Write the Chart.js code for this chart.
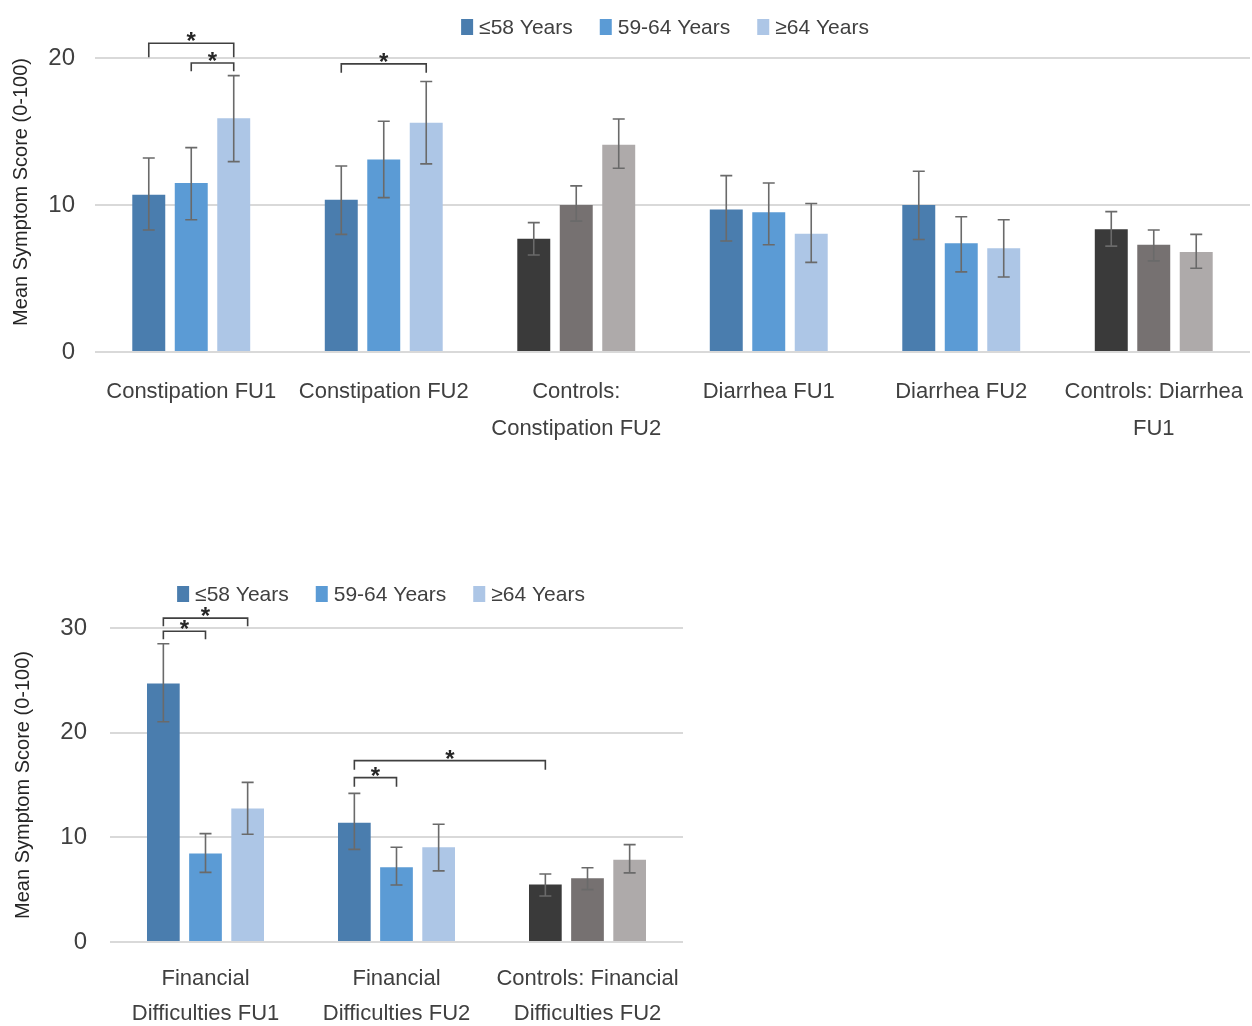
<!DOCTYPE html>
<html>
<head>
<meta charset="utf-8">
<title>Mean Symptom Score by age group</title>
<script src="https://cdn.jsdelivr.net/npm/chart.js@4.4.1/dist/chart.umd.min.js"></script>
<style>
  html, body { margin: 0; padding: 0; background: #fff; }
  body { width: 1252px; height: 1026px; position: relative; overflow: hidden; }
  .box { position: absolute; left: 0; }
</style>
</head>
<body>
<div class="box" style="top:0;width:1252px;height:450px"><canvas id="topChart"></canvas></div>
<div class="box" style="top:560px;width:700px;height:466px"><canvas id="botChart"></canvas></div>

<script>
// ---------- data ----------
const ageGroups = ['≤58 Years', '59-64 Years', '≥64 Years'];

const topCategories = [
  'Constipation FU1', 'Constipation FU2', ['Controls:', 'Constipation FU2'],
  'Diarrhea FU1', 'Diarrhea FU2', ['Controls: Diarrhea', 'FU1']
];
const topYoung     = [10.7, 10.35, 7.7, 9.7, 10.0, 8.35];
const topYoungLow  = [8.3, 8.0, 6.6, 7.55, 7.65, 7.2];
const topYoungHigh = [13.2, 12.65, 8.8, 12.0, 12.3, 9.55];
const topMid       = [11.5, 13.1, 10.0, 9.5, 7.4, 7.3];
const topMidLow    = [9.0, 10.5, 8.9, 7.3, 5.45, 6.2];
const topMidHigh   = [13.9, 15.7, 11.3, 11.5, 9.2, 8.3];
const topOld       = [15.9, 15.6, 14.1, 8.05, 7.05, 6.8];
const topOldLow    = [12.95, 12.8, 12.5, 6.1, 5.1, 5.7];
const topOldHigh   = [18.8, 18.4, 15.85, 10.1, 9.0, 8.0];
const topControls  = [false, false, true, false, false, true];
const topTicks     = [0, 10, 20];

const botCategories = [
  ['Financial', 'Difficulties FU1'], ['Financial', 'Difficulties FU2'],
  ['Controls: Financial', 'Difficulties FU2']
];
const botYoung     = [24.7, 11.4, 5.5];
const botYoungLow  = [21.05, 8.85, 4.4];
const botYoungHigh = [28.5, 14.2, 6.5];
const botMid       = [8.45, 7.15, 6.1];
const botMidLow    = [6.65, 5.45, 5.0];
const botMidHigh   = [10.35, 9.05, 7.1];
const botOld       = [12.75, 9.05, 7.85];
const botOldLow    = [10.3, 6.8, 6.6];
const botOldHigh   = [15.25, 11.25, 9.3];
const botControls  = [false, false, true];
const botTicks     = [0, 10, 20, 30];

// significance brackets: [fromGroup, fromSeries, toGroup, toSeries, level, foot]
const topBrackets = [
  [0, 0, 0, 2, 21.0, 20.05],
  [0, 1, 0, 2, 19.66, 19.1],
  [1, 0, 1, 2, 19.6, 19.0]
];
const botBrackets = [
  [0, 0, 0, 2, 30.94, 30.17],
  [0, 0, 0, 1, 29.69, 28.92],
  [1, 0, 2, 0, 17.33, 16.46],
  [1, 0, 1, 1, 15.7, 14.83]
];

// ---------- styles ----------
const blueColors = ['#4a7dae', '#5b9bd5', '#adc6e6'];
const greyColors = ['#3a3a3a', '#767171', '#aeaaaa'];
const SANS = "'Liberation Sans', Arial, sans-serif";

// ═══ plugins ═══
const errorBars = {
  id: 'errorBars',
  afterDatasetsDraw(chart) {
    const ctx = chart.ctx, y = chart.scales.y;
    ctx.save();
    ctx.strokeStyle = '#6a6a6a';
    ctx.lineWidth = 1.6;
    chart.data.datasets.forEach((ds, i) => {
      chart.getDatasetMeta(i).data.forEach((bar, j) => {
        const lo = y.getPixelForValue(ds.errLow[j]);
        const hi = y.getPixelForValue(ds.errHigh[j]);
        ctx.beginPath();
        ctx.moveTo(bar.x, lo); ctx.lineTo(bar.x, hi);
        ctx.moveTo(bar.x - 6, lo); ctx.lineTo(bar.x + 6, lo);
        ctx.moveTo(bar.x - 6, hi); ctx.lineTo(bar.x + 6, hi);
        ctx.stroke();
      });
    });
    ctx.restore();
  }
};

const brackets = {
  id: 'brackets',
  afterDraw(chart, args, opts) {
    const ctx = chart.ctx, y = chart.scales.y;
    ctx.save();
    ctx.strokeStyle = '#404040';
    ctx.fillStyle = '#262626';
    ctx.lineWidth = 1.6;
    ctx.font = 'bold 24px ' + SANS;
    ctx.textAlign = 'center';
    ctx.textBaseline = 'alphabetic';
    (opts.items || []).forEach(([g1, s1, g2, s2, level, foot]) => {
      const x1 = chart.getDatasetMeta(s1).data[g1].x;
      const x2 = chart.getDatasetMeta(s2).data[g2].x;
      const yl = y.getPixelForValue(level);
      const yf = y.getPixelForValue(foot);
      ctx.beginPath();
      ctx.moveTo(x1, yf); ctx.lineTo(x1, yl); ctx.lineTo(x2, yl); ctx.lineTo(x2, yf);
      ctx.stroke();
      ctx.fillText('*', (x1 + x2) / 2, yl + 6);
    });
    ctx.restore();
  }
};

const topLegend = {
  id: 'topLegend',
  afterDraw(chart, args, opts) {
    const ctx = chart.ctx;
    ctx.save();
    ctx.font = '21px ' + SANS;
    ctx.textBaseline = 'middle';
    const gap = 27, box = 12;
    const widths = ageGroups.map(t => box + 6 + ctx.measureText(t).width);
    const total = widths.reduce((a, b) => a + b, 0) + gap * (widths.length - 1);
    let x = opts.centerX - total / 2;
    ageGroups.forEach((t, i) => {
      ctx.fillStyle = blueColors[i];
      ctx.fillRect(x, opts.y - 8, box, 16);
      ctx.fillStyle = '#404040';
      ctx.fillText(t, x + box + 6, opts.y + 1);
      x += widths[i] + gap;
    });
    ctx.restore();
  }
};

// ═══ builder ═══
function makeDatasets(series, lows, highs, controls) {
  return series.map((vals, i) => ({
    label: ageGroups[i],
    data: vals,
    errLow: lows[i],
    errHigh: highs[i],
    backgroundColor: controls.map(c => c ? greyColors[i] : blueColors[i]),
    borderWidth: 0,
    categoryPercentage: 0.662,
    barPercentage: 0.776
  }));
}

function makeChart(id, cfg) {
  return new Chart(document.getElementById(id), {
    type: 'bar',
    data: {
      labels: cfg.labels,
      datasets: makeDatasets(cfg.series, cfg.lows, cfg.highs, cfg.controls)
    },
    options: {
      responsive: true,
      maintainAspectRatio: false,
      animation: false,
      layout: { padding: cfg.padding },
      plugins: {
        legend: { display: false },
        tooltip: { enabled: false },
        brackets: { items: cfg.brackets },
        topLegend: cfg.legend
      },
      scales: {
        x: {
          grid: { display: false, drawTicks: false },
          border: { display: false },
          ticks: {
            color: '#404040',
            padding: cfg.xPad,
            maxRotation: 0,
            autoSkip: false,
            font: { family: SANS, size: 22, lineHeight: cfg.lineH }
          },
          afterFit: s => {
            s.height = cfg.xHeight;
            s.paddingLeft = 0;
            s.paddingRight = 0;
          }
        },
        y: {
          min: 0,
          max: cfg.ticks[cfg.ticks.length - 1],
          afterBuildTicks: s => { s.ticks = cfg.ticks.map(v => ({ value: v })); },
          grid: { color: '#d9d9d9', lineWidth: 2, drawTicks: false },
          border: { display: false },
          ticks: {
            color: '#404040',
            padding: cfg.yPad,
            font: { family: SANS, size: 24 }
          },
          title: {
            display: true,
            text: 'Mean Symptom Score (0-100)',
            align: cfg.titleAlign,
            color: '#262626',
            font: { family: SANS, size: 20 },
            padding: { top: cfg.titlePad, bottom: 0 }
          },
          afterFit: s => { s.width = cfg.yWidth; }
        }
      }
    },
    plugins: [errorBars, brackets, topLegend]
  });
}

makeChart('topChart', {
  labels: topCategories,
  series: [topYoung, topMid, topOld],
  lows: [topYoungLow, topMidLow, topOldLow],
  highs: [topYoungHigh, topMidHigh, topOldHigh],
  controls: topControls,
  ticks: topTicks,
  brackets: topBrackets,
  legend: { centerX: 665, y: 27 },
  padding: { top: 58, right: 2, left: 0, bottom: 0 },
  xHeight: 98, xPad: 21.5, lineH: 1.68,
  yWidth: 95, yPad: 20, titlePad: 9, titleAlign: 'end'
});

makeChart('botChart', {
  labels: botCategories,
  series: [botYoung, botMid, botOld],
  lows: [botYoungLow, botMidLow, botOldLow],
  highs: [botYoungHigh, botMidHigh, botOldHigh],
  controls: botControls,
  ticks: botTicks,
  brackets: botBrackets,
  legend: { centerX: 381, y: 34 },
  padding: { top: 68, right: 17, left: 0, bottom: 0 },
  xHeight: 84, xPad: 19, lineH: 1.59,
  yWidth: 110, yPad: 23, titlePad: 11, titleAlign: 'center'
});
</script>
</body>
</html>
